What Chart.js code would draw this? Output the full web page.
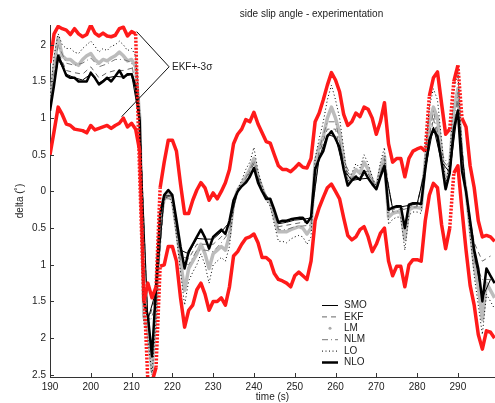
<!DOCTYPE html>
<html>
<head>
<meta charset="utf-8">
<script src="https://cdn.jsdelivr.net/npm/chart.js@4.4.0/dist/chart.umd.min.js"></script>
<style>
  html, body { margin: 0; padding: 0; background: #fff; }
</style>
</head>
<body>
<canvas id="slipChart" width="495" height="403"></canvas>
<script>
// sampling of the series (s)
const tStart = 190, tStep = 1;          // dense series: 190..299
const tStartSparse = 190, tStepSparse = 2; // SMO / EKF / NLM: 190..298

const xTickValues = [190, 200, 210, 220, 230, 240, 250, 260, 270, 280, 290];
const yTickValues = [-2.5, -2, -1.5, -1, -0.5, 0, 0.5, 1, 1.5, 2];
// labels as printed on the original (minus signs missing)
const yTickLabels = ['2.5', '2', '1.5', '1', '0.5', '0', '0.5', '1', '1.5', '2'];

const seriesNames = ['SMO', 'EKF', 'LM', 'NLM', 'LO', 'NLO'];

// EKF +/- 3 sigma bounds
const ekfUpper = [
  1.75, 2.15, 2.25, 2.22, 2.2, 2.14, 2.22, 2.15, 2.11, 2.14,
  2.27, 2.16, 2.12, 2.16, 2.12, 2.11, 2.13, 2.22, 2.24, 2.12,
  2.18, 2.15, 0.2, -1.5, -1.25, -1.45, -1.3, 0.05, 0.4, 0.7,
  0.7, 0.55, 0.1, -0.3, -0.3, -0.12, 0.02, 0.12, 0.05, -0.12,
  -0.02, -0.1, 0.0, 0.12, 0.3, 0.65, 0.78, 0.85, 0.98, 0.95,
  1.08, 0.92, 0.8, 0.68, 0.66, 0.5, 0.35, 0.3, 0.3, 0.27,
  0.32, 0.38, 0.33, 0.32, 0.45, 0.95, 1.07, 1.25, 1.45, 1.62,
  1.52, 1.36, 1.05, 0.9, 0.95, 1.07, 1.02, 1.15, 1.12, 1.0,
  0.78, 0.95, 1.21, 0.65, 0.4, 0.45, 0.45, 0.2, 0.45, 0.55,
  0.58, 0.6, 0.55, 1.3, 1.55, 1.63, 1.2, 0.78, 0.85, 1.5,
  1.72, 1.0, 0.88, 0.35, 0.05, -0.4, -0.62, -0.6, -0.62, -0.68
];
const ekfLower = [
  0.5, 0.82, 1.15, 1.05, 0.92, 0.9, 0.85, 0.84, 0.83, 0.8,
  0.9, 0.84, 0.86, 0.88, 0.9, 0.86, 0.9, 0.93, 1.0, 0.88,
  0.93, 0.85, 0.55, -1.3, -2.6, -2.6, -2.4, -1.02, -1.0, -0.75,
  -0.75, -0.95, -1.45, -1.85, -1.62, -1.55, -1.34, -1.25, -1.4, -1.62,
  -1.5, -1.5, -1.45, -1.55, -1.3, -0.88, -0.82, -0.72, -0.64, -0.62,
  -0.58, -0.7, -0.9, -0.9, -0.95, -1.12, -1.2, -1.22, -1.25, -1.3,
  -1.15, -1.1, -1.15, -1.2, -0.95, -0.4, -0.22, -0.08, 0.05, 0.1,
  0.0, -0.1, -0.36, -0.6, -0.66, -0.62, -0.52, -0.48, -0.62, -0.82,
  -0.72, -0.57, -0.5, -0.95, -1.15, -1.02, -1.02, -1.3, -1.0, -0.93,
  -0.93, -0.95, -0.4, -0.05, 0.11, 0.05, -0.45, -0.78, -0.5, 0.25,
  0.35, -0.25, -0.8, -1.28, -1.55, -1.95, -2.15, -1.9, -1.92, -2.0
];
const nlo = [
  1.1, 1.45, 1.85, 1.72, 1.58, 1.55, 1.55, 1.5, 1.5, 1.5,
  1.62, 1.55, 1.46, 1.5, 1.55, 1.5, 1.57, 1.65, 1.55, 1.6,
  1.6, 1.43, 0.95, -1.5, -1.7, -2.25, -1.3, -0.3, -0.05, 0.02,
  -0.05, -0.39, -0.75, -1.05, -0.82, -0.72, -0.62, -0.52, -0.63, -0.78,
  -0.62, -0.57, -0.52, -0.58, -0.4, -0.12, 0.0, 0.07, 0.12, 0.2,
  0.32, 0.12, 0.0, -0.1, -0.1, -0.25, -0.42, -0.4, -0.4, -0.38,
  -0.37, -0.36, -0.36, -0.43, -0.35, 0.3, 0.45, 0.55, 0.75, 0.82,
  0.72, 0.6, 0.3, 0.08, 0.15, 0.2, 0.16, 0.28, 0.18, 0.1,
  0.03, 0.2, 0.35, -0.25, -0.22, -0.2, -0.2, -0.5, -0.18, -0.16,
  -0.16, -0.17, 0.3, 0.7, 0.85, 0.75, 0.4, 0.03, 0.25, 0.85,
  1.1, 0.28, 0.0, -0.4, -0.8, -1.05, -1.5, -1.05, -1.15, -1.25
];
const lm = [
  1.2, 1.7, 2.1, 1.85, 1.8, 1.8, 1.75, 1.72, 1.8, 1.85,
  1.88, 1.8, 1.75, 1.8, 1.78, 1.82, 1.85, 1.9, 1.85, 1.78,
  1.8, 1.7, 1.0, -1.7, -1.9, -2.45, -1.6, -0.4, -0.1, -0.02,
  -0.12, -0.5, -0.95, -1.35, -1.05, -0.95, -0.85, -0.72, -0.85, -1.05,
  -0.85, -0.8, -0.75, -0.8, -0.6, -0.15, 0.02, 0.1, 0.2, 0.3,
  0.45, 0.2, 0.05, -0.1, -0.15, -0.35, -0.55, -0.55, -0.55, -0.52,
  -0.5, -0.48, -0.5, -0.58, -0.5, 0.4, 0.6, 0.75, 1.0, 1.15,
  1.0, 0.8, 0.45, 0.1, 0.2, 0.3, 0.25, 0.4, 0.3, 0.15,
  0.05, 0.3, 0.48, -0.35, -0.3, -0.28, -0.28, -0.65, -0.25, -0.22,
  -0.22, -0.23, 0.4, 0.95, 1.15, 1.0, 0.55, 0.05, 0.35, 1.1,
  1.4, 0.4, 0.0, -0.5, -1.0, -1.3, -1.75, -1.25, -1.35, -1.45
];
const lo = [
  1.3, 1.85, 2.15, 2.0, 1.95, 1.95, 1.9, 1.88, 1.95, 2.0,
  2.05, 1.98, 1.9, 1.95, 1.92, 1.98, 2.0, 2.05, 2.0, 1.92,
  1.95, 1.85, 1.1, -1.8, -2.0, -2.5, -1.75, -0.45, -0.12, -0.05,
  -0.18, -0.6, -1.1, -1.55, -1.22, -1.1, -1.0, -0.85, -1.0, -1.25,
  -1.0, -0.95, -0.9, -0.95, -0.75, -0.18, 0.03, 0.15, 0.3, 0.4,
  0.6, 0.28, 0.08, -0.12, -0.2, -0.45, -0.68, -0.68, -0.7, -0.65,
  -0.62, -0.6, -0.62, -0.72, -0.62, 0.45, 0.72, 0.95, 1.25, 1.45,
  1.25, 1.0, 0.58, 0.12, 0.25, 0.38, 0.32, 0.5, 0.38, 0.2,
  0.06, 0.4, 0.6, -0.45, -0.38, -0.35, -0.35, -0.8, -0.32, -0.28,
  -0.28, -0.3, 0.5, 1.15, 1.4, 1.25, 0.7, 0.07, 0.45, 1.35,
  1.65, 0.5, 0.02, -0.6, -1.15, -1.55, -1.95, -1.4, -1.5, -1.6
];
// mostly hidden behind the thick lines, read every 2 s
const smo = [
  1.15, 1.8, 1.6, 1.55, 1.52, 1.6, 1.48, 1.55, 1.57, 1.56,
  1.6, 0.95, -1.75, -1.35, -0.06, -0.06, -0.8, -0.85, -0.64, -0.65,
  -0.65, -0.55, -0.42, 0.0, 0.12, 0.33, 0.0, -0.12, -0.44, -0.42,
  -0.39, -0.38, -0.36, 0.46, 0.78, 0.74, 0.3, 0.15, 0.17, 0.18,
  0.03, 0.36, -0.23, -0.21, -0.19, -0.17, 0.3, 0.88, 0.4, 0.26,
  1.12, 0.0, -0.85, -1.45, -1.2
];
const ekf = [
  1.2, 1.9, 1.65, 1.62, 1.6, 1.7, 1.55, 1.62, 1.65, 1.65,
  1.68, 1.0, -1.8, -1.4, -0.08, -0.08, -0.88, -0.92, -0.72, -0.72,
  -0.72, -0.62, -0.48, 0.0, 0.15, 0.38, 0.02, -0.12, -0.48, -0.46,
  -0.44, -0.42, -0.42, 0.52, 0.85, 0.85, 0.36, 0.17, 0.2, 0.24,
  0.04, 0.4, -0.25, -0.24, -0.2, -0.19, 0.34, 1.0, 0.45, 0.3,
  1.25, -0.05, -0.7, -0.95, -0.88
];
const nlm = [
  1.22, 2.0, 1.75, 1.72, 1.75, 1.82, 1.7, 1.74, 1.8, 1.8,
  1.76, 1.05, -1.85, -1.55, -0.1, -0.1, -0.95, -1.0, -0.8, -0.8,
  -0.82, -0.7, -0.55, 0.02, 0.18, 0.42, 0.04, -0.14, -0.52, -0.52,
  -0.48, -0.47, -0.46, 0.58, 0.95, 0.95, 0.42, 0.19, 0.24, 0.28,
  0.05, 0.45, -0.28, -0.26, -0.22, -0.21, 0.38, 1.1, 0.52, 0.33,
  1.35, -0.02, -0.95, -1.2, -1.2
];

// annotation "EKF+-3σ" (data coordinates)
const annotText = 'EKF+-3σ';
const annotTextAt = [219.9, 1.70];
const annotFrom = [219.2, 1.70];
const annotTo = [[211.25, 2.18], [207.57, 1.02]];

const chartTitle = 'side slip angle - experimentation';

const RED = '#ff1a1a';
const toXY = (arr, t0, dt) => arr.map((v, i) => ({ x: t0 + i * dt, y: v }));
// the big jumps of the bounds look dotted in the original
const steepDash = c => Math.abs(c.p1.parsed.y - c.p0.parsed.y) > 0.6 ? [2, 1.5] : undefined;

Chart.defaults.font.family = '"Liberation Sans", Arial, Helvetica, sans-serif';
Chart.defaults.font.size = 10;
Chart.defaults.color = '#222';

// tick marks pointing into the plot
const inwardTicks = {
  id: 'inwardTicks',
  afterDatasetsDraw(chart) {
    const { ctx, chartArea: a, scales: { x, y } } = chart;
    ctx.save();
    ctx.strokeStyle = '#333';
    ctx.lineWidth = 1;
    ctx.beginPath();
    xTickValues.forEach(v => {
      const px = Math.round(x.getPixelForValue(v)) + 0.5;
      ctx.moveTo(px, a.bottom);
      ctx.lineTo(px, a.bottom - 4);
    });
    yTickValues.forEach(v => {
      const py = Math.round(y.getPixelForValue(v)) + 0.5;
      ctx.moveTo(a.left, py);
      ctx.lineTo(a.left + 4, py);
    });
    ctx.stroke();
    ctx.restore();
  }
};

const annotation = {
  id: 'annotation',
  afterDatasetsDraw(chart) {
    const { ctx, scales: { x, y } } = chart;
    ctx.save();
    ctx.strokeStyle = '#111';
    ctx.lineWidth = 1;
    ctx.beginPath();
    annotTo.forEach(p => {
      ctx.moveTo(x.getPixelForValue(annotFrom[0]), y.getPixelForValue(annotFrom[1]));
      ctx.lineTo(x.getPixelForValue(p[0]), y.getPixelForValue(p[1]));
    });
    ctx.stroke();
    ctx.fillStyle = '#222';
    ctx.font = '10px "Liberation Sans", Arial, sans-serif';
    ctx.textAlign = 'left';
    ctx.textBaseline = 'middle';
    ctx.fillText(annotText, x.getPixelForValue(annotTextAt[0]), y.getPixelForValue(annotTextAt[1]));
    ctx.restore();
  }
};

// legend box in the lower right of the plot
const legendBox = {
  id: 'legendBox',
  afterDraw(chart) {
    const { ctx } = chart;
    const x0 = 322, x1 = 338, tx = 344, top = 305.5, row = 11.4;
    ctx.save();
    ctx.font = '10px "Liberation Sans", Arial, sans-serif';
    ctx.textBaseline = 'middle';
    ctx.fillStyle = '#222';
    seriesNames.forEach((name, i) => {
      const ds = chart.data.datasets.find(d => d.label === name);
      const yy = top + i * row;
      ctx.save();
      if (name === 'LM') {
        ctx.fillStyle = '#aaa';
        ctx.beginPath();
        ctx.arc((x0 + x1) / 2, yy, 1.5, 0, Math.PI * 2);
        ctx.fill();
      } else {
        ctx.strokeStyle = ds.borderColor;
        ctx.lineWidth = ds.borderWidth;
        ctx.setLineDash(ds.borderDash || []);
        ctx.beginPath();
        ctx.moveTo(x0, yy);
        ctx.lineTo(x1, yy);
        ctx.stroke();
      }
      ctx.restore();
      ctx.fillText(name, tx, yy);
    });
    ctx.restore();
  }
};

const titleText = {
  id: 'titleText',
  afterDraw(chart) {
    const { ctx } = chart;
    ctx.save();
    ctx.font = '10px "Liberation Sans", Arial, sans-serif';
    ctx.fillStyle = '#222';
    ctx.textAlign = 'center';
    ctx.textBaseline = 'middle';
    ctx.fillText(chartTitle, 311.5, 14);
    ctx.restore();
  }
};

const ctx = document.getElementById('slipChart').getContext('2d');
const chart = new Chart(ctx, {
  type: 'line',
  data: {
    datasets: [
      { label: 'EKF+3σ', data: toXY(ekfUpper, tStart, tStep), borderColor: RED, borderWidth: 3.5, segment: { borderDash: steepDash } },
      { label: 'EKF-3σ', data: toXY(ekfLower, tStart, tStep), borderColor: RED, borderWidth: 3.5, segment: { borderDash: steepDash } },
      { label: 'NLO', data: toXY(nlo, tStart, tStep), borderColor: '#000', borderWidth: 2.5 },
      { label: 'LO', data: toXY(lo, tStart, tStep), borderColor: '#000', borderWidth: 1, borderDash: [1, 2.5] },
      { label: 'SMO', data: toXY(smo, tStartSparse, tStepSparse), borderColor: '#000', borderWidth: 1 },
      { label: 'NLM', data: toXY(nlm, tStartSparse, tStepSparse), borderColor: '#777', borderWidth: 1, borderDash: [6, 3, 1, 3] },
      { label: 'EKF', data: toXY(ekf, tStartSparse, tStepSparse), borderColor: '#666', borderWidth: 1, borderDash: [5, 4] },
      { label: 'LM', data: toXY(lm, tStart, tStep), borderColor: '#bcbcbc', borderWidth: 3.5 }
    ]
  },
  options: {
    responsive: false,
    animation: false,
    elements: {
      point: { radius: 0 },
      line: { tension: 0, borderJoinStyle: 'round' }
    },
    layout: { padding: { top: 25, right: 0, left: 0, bottom: 0 } },
    plugins: {
      legend: { display: false },
      tooltip: { enabled: false },
      title: { display: false }
    },
    scales: {
      x: {
        type: 'linear',
        min: 190,
        max: 299.1,
        afterBuildTicks: s => { s.ticks = xTickValues.map(v => ({ value: v })); },
        afterFit: s => { s.height = 26; },
        grid: { display: false, drawTicks: false },
        border: { display: true, color: '#333', width: 1 },
        ticks: { padding: 4, maxRotation: 0, autoSkip: false, callback: v => String(v) },
        title: { display: true, text: 'time (s)', padding: { top: 0, bottom: 0 } }
      },
      y: {
        type: 'linear',
        min: -2.53,
        max: 2.27,
        afterBuildTicks: s => { s.ticks = yTickValues.map(v => ({ value: v })); },
        afterFit: s => { s.width = 50; },
        grid: { display: false, drawTicks: false },
        border: { display: true, color: '#333', width: 1 },
        ticks: { padding: 4, autoSkip: false, callback: (v, i) => yTickLabels[i] },
        title: { display: true, text: 'delta (˚)', padding: { top: 14, bottom: 0 } }
      }
    }
  },
  plugins: [inwardTicks, annotation, legendBox, titleText]
});
</script>
</body>
</html>
